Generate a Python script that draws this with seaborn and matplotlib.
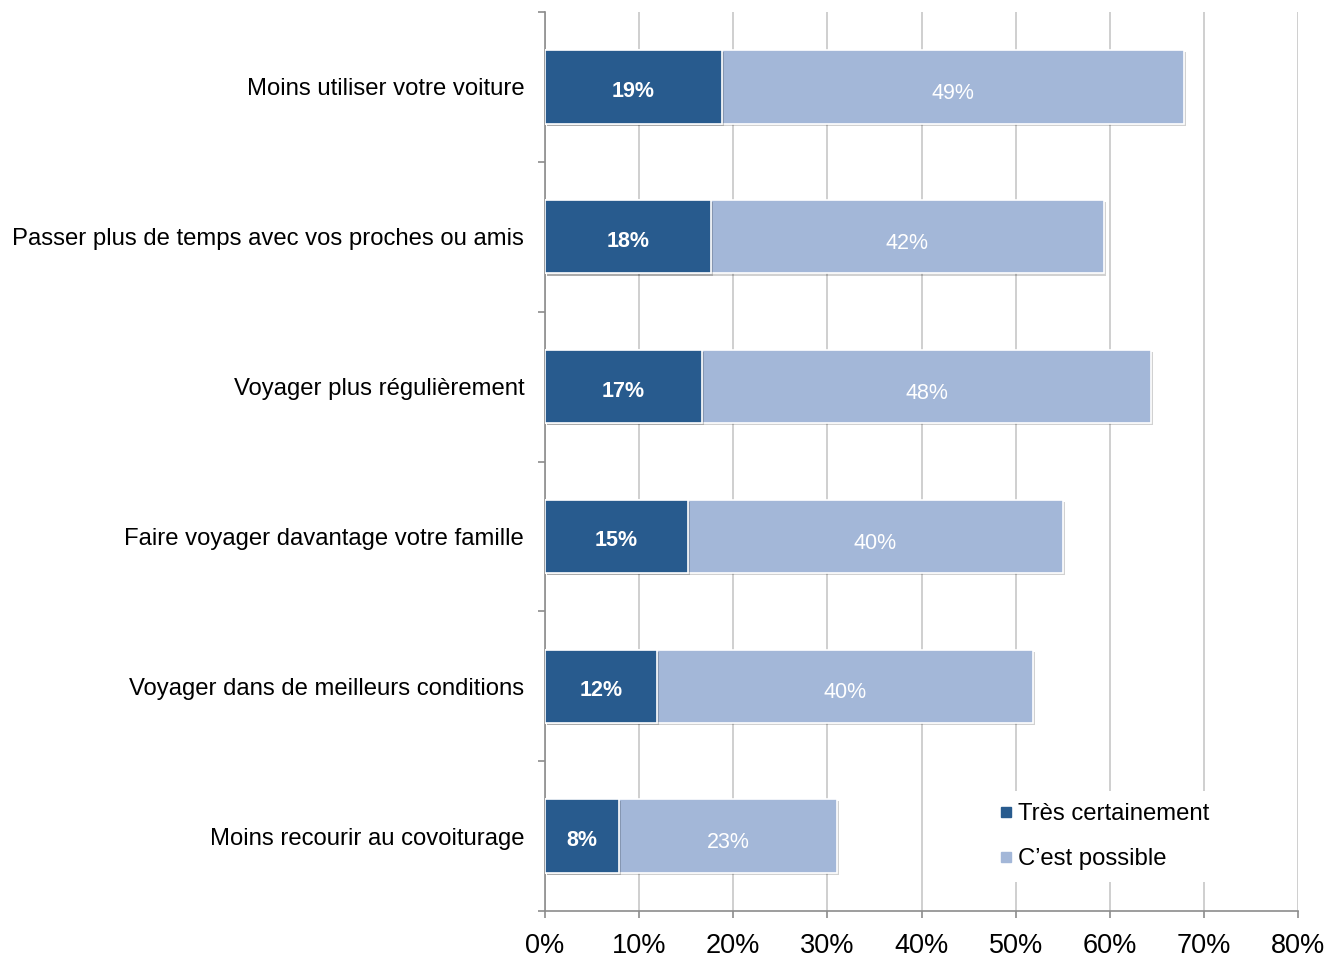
import matplotlib
matplotlib.use("Agg")
import matplotlib.pyplot as plt
import matplotlib.patheffects as pe
from matplotlib.lines import Line2D
import numpy as np
import pandas as pd
import seaborn as sns

categories = [
    "Moins utiliser votre voiture",
    "Passer plus de temps avec vos proches ou amis",
    "Voyager plus régulièrement",
    "Faire voyager davantage votre famille",
    "Voyager dans de meilleurs conditions",
    "Moins recourir au covoiturage",
]
tres_certainement = [18.8, 17.6, 16.7, 15.2, 11.9, 7.9]
cest_possible = [49.1, 41.8, 47.7, 39.8, 39.9, 23.1]
series_names = ["Très certainement", "C\u2019est possible"]
x_ticks = [0, 10, 20, 30, 40, 50, 60, 70, 80]

dark = "#285B8E"
light = "#A3B7D8"

sns.set_theme(style="white")
plt.rcParams["font.family"] = ["Liberation Sans", "DejaVu Sans"]

df = pd.DataFrame({
    "cat": categories,
    "dark": tres_certainement,
    "light": cest_possible,
})
df["total"] = df["dark"] + df["light"]

fig = plt.figure(figsize=(13.4, 9.57), dpi=100)
ax = fig.add_axes([545 / 1340, 1 - 911 / 957, 753 / 1340, 899 / 957])

shadow = [pe.SimplePatchShadow(offset=(1.5, -1.5), shadow_rgbFace="#000000", alpha=0.18), pe.Normal()]

sns.barplot(data=df, y="cat", x="total", color=light, saturation=1, width=0.49,
            edgecolor="white", linewidth=1.2, ax=ax, orient="h", zorder=3)
sns.barplot(data=df, y="cat", x="dark", color=dark, saturation=1, width=0.49,
            edgecolor="white", linewidth=1.2, ax=ax, orient="h", zorder=4)
for p in ax.patches:
    p.set_path_effects(shadow)

# value labels
for i, (d, l) in enumerate(zip(df["dark"], df["light"])):
    ax.text(d / 2, i + 0.03, f"{d:.0f}%", ha="center", va="center", color="white",
            fontsize=15.5, fontweight="bold", zorder=6)
    ax.text(d + l / 2, i + 0.045, f"{l:.0f}%", ha="center", va="center", color="white",
            fontsize=15.5, zorder=6)

ax.set_xlim(0, 80)
ax.set_ylim(5.5, -0.5)
ax.set_xticks(x_ticks)
ax.set_xticklabels([f"{v}%" for v in x_ticks], fontsize=19.5, color="black")
ax.set_yticks(range(len(categories)))
ax.set_yticklabels(categories, fontsize=17.2, color="black")
ax.set_yticks(np.arange(-0.5, len(categories)), minor=True)
ax.tick_params(axis="y", which="major", length=0, pad=15)
ax.tick_params(axis="y", which="minor", length=5, width=1.2, color="#8C8C8C", left=True)
ax.tick_params(axis="x", which="major", length=5, width=1.2, color="#8C8C8C", bottom=True, pad=10.5)
ax.set_xlabel("")
ax.set_ylabel("")

ax.grid(axis="x", color="#CFCFCF", linewidth=1.4, zorder=0)
ax.set_axisbelow(True)
for s in ["top", "right"]:
    ax.spines[s].set_visible(False)
for s in ["left", "bottom"]:
    ax.spines[s].set_color("#8C8C8C")
    ax.spines[s].set_linewidth(1.2)

handles = [
    Line2D([], [], marker="s", linestyle="none", markersize=7.5, color=dark),
    Line2D([], [], marker="s", linestyle="none", markersize=7.5, color=light),
]
leg = ax.legend(handles, series_names, loc="upper left", bbox_to_anchor=(0.588, 0.133),
                frameon=True, fontsize=17.2, handlelength=0.5, handletextpad=0.25,
                labelspacing=0.95, borderpad=0.5, borderaxespad=0)
leg.get_frame().set_facecolor("white")
leg.get_frame().set_edgecolor("none")
leg.get_frame().set_alpha(1)
leg.set_zorder(5)
for t in leg.get_texts():
    t.set_color("black")

fig.savefig("out.png", dpi=100)
